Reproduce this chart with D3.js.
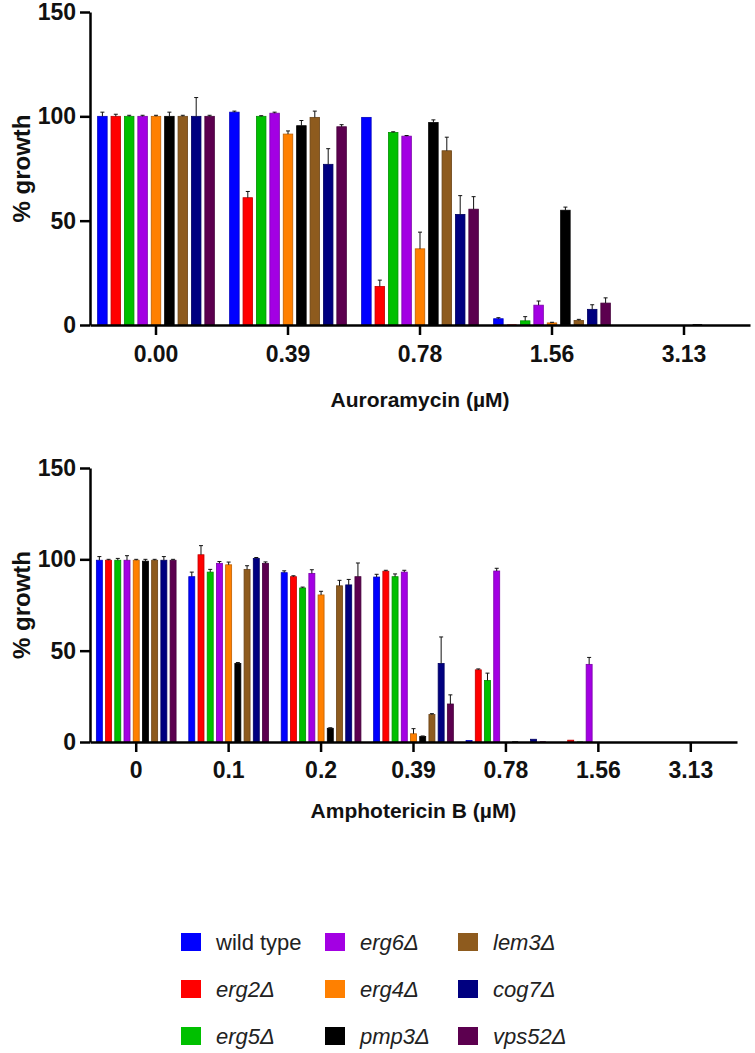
<!DOCTYPE html>
<html lang="en">
<head>
    <meta charset="UTF-8">
    <title>% growth</title>
    <script src="https://cdnjs.cloudflare.com/ajax/libs/d3/7.8.5/d3.min.js"></script>
    <style>
        body {
            margin: 0;
            background: white;
            font-family: "Liberation Sans", Arial, sans-serif;
        }
        svg {
            display: block;
        }
        .axis path, .axis line {
            stroke: #000;
            stroke-width: 2.5px;
        }
        .axis text {
            font-family: "Liberation Sans", Arial, sans-serif;
            font-size: 23px;
            font-weight: bold;
            fill: #111;
        }
        .title {
            font-size: 21px;
            font-weight: bold;
            fill: #111;
        }
        .ylab {
            font-size: 24px;
            font-weight: bold;
            fill: #111;
        }
        .legend text {
            font-size: 22px;
            fill: #222;
        }
    </style>
</head>
<body>
    <svg id="chart" width="755" height="1053"></svg>

    <script>
        // strains (legend order = bar order inside each group)
        const strains = ["wild type", "erg2Δ", "erg5Δ", "erg6Δ", "erg4Δ", "pmp3Δ", "lem3Δ", "cog7Δ", "vps52Δ"];
        const strainColors = ["#0000ff", "#ff0000", "#00c000", "#a300e3", "#ff8000", "#000000", "#8e5b1e", "#000080", "#5c004f"];

        // Auroramycin panel: one row per concentration, one value per strain
        const auroConc = ["0.00", "0.39", "0.78", "1.56", "3.13"];
        const auroMean = [
            [100, 100, 100, 100, 100, 100, 100, 100, 100],
            [102, 61, 100, 101.5, 91.5, 95.5, 99.5, 77, 95],
            [99.5, 18.5, 92.3, 90.5, 36.5, 97, 83.5, 53, 55.5],
            [3, 0.3, 2, 9.5, 1, 55, 2.2, 7.5, 10.5],
            [0, 0, 0, 0, 0, 0.4, 0, 0, 0]
        ];
        const auroErr = [
            [2, 1, 0.5, 0.5, 0.5, 2, 0.5, 9, 0.5],
            [0.5, 3, 0.3, 0.5, 1.5, 2.5, 3, 7.5, 1],
            [0, 3, 0.3, 0.3, 8, 1.3, 6.5, 9, 6],
            [0.5, 0, 2, 2, 0.3, 1.5, 0.5, 2.2, 2.5],
            [0, 0, 0, 0, 0, 0, 0, 0, 0]
        ];

        // Amphotericin B panel
        const amphoConc = ["0", "0.1", "0.2", "0.39", "0.78", "1.56", "3.13"];
        const amphoMean = [
            [99.5, 99.5, 99.5, 99.5, 99.5, 99, 99.5, 99.5, 99.5],
            [90.5, 102.5, 93, 97.8, 97, 43, 94.5, 100.5, 97.8],
            [92.7, 90.5, 84.3, 92.3, 80.5, 7.5, 85.5, 86, 90.5],
            [90.3, 93.5, 90.5, 93, 4.5, 3, 15, 43, 20.8],
            [0.8, 39.5, 33.7, 93.6, 0, 0.4, 0, 1.5, 0.4],
            [0, 1, 0.3, 42.5, 0, 0, 0, 0, 0],
            [0, 0, 0, 0, 0, 0, 0, 0, 0]
        ];
        const amphoErr = [
            [2, 0.5, 1, 2.5, 0.5, 1, 0.5, 2, 0.5],
            [2.5, 5, 1.5, 1, 1.5, 0.5, 2, 0.5, 0.8],
            [1, 0.5, 0.5, 2, 2, 0.3, 3, 3, 7.5],
            [1.5, 0.5, 1.5, 1, 2.8, 0.3, 0.5, 14.5, 5],
            [0, 0.5, 4, 1.5, 0, 0, 0, 0, 0],
            [0, 0, 0, 3.8, 0, 0, 0, 0, 0],
            [0, 0, 0, 0, 0, 0, 0, 0, 0]
        ];

        const yTicks = [0, 50, 100, 150];

        const svg = d3.select("#chart");

        function drawPanel(opt) {
            const g = svg.append("g");

            const x = d3.scaleBand()
                .domain(opt.conc)
                .range([opt.left, opt.right])
                .padding(0);

            const xs = d3.scaleBand()
                .domain(d3.range(strains.length))
                .range([0, x.bandwidth()])
                .paddingInner(opt.barPad)
                .paddingOuter(opt.outerPad);

            const y = d3.scaleLinear()
                .domain([0, 150])
                .range([opt.bottom, opt.top]);

            // bars
            opt.conc.forEach((c, i) => {
                const grp = g.append("g")
                    .attr("transform", `translate(${x(c)},0)`);

                grp.selectAll("rect")
                    .data(opt.mean[i])
                    .enter()
                    .append("rect")
                    .attr("x", (d, j) => xs(j))
                    .attr("y", d => y(d))
                    .attr("width", xs.bandwidth())
                    .attr("height", d => y(0) - y(d))
                    .attr("fill", (d, j) => strainColors[j])
                    .attr("stroke", (d, j) => d > 0.5 ? d3.color(strainColors[j]).darker(0.8) : "none")
                    .attr("stroke-width", 0.8);

                // upper error bars only
                const errs = opt.mean[i].map((m, j) => ({ m: m, e: opt.err[i][j], j: j }))
                    .filter(d => d.e > 0);

                grp.selectAll("line.err")
                    .data(errs)
                    .enter()
                    .append("line")
                    .attr("class", "err")
                    .attr("x1", d => xs(d.j) + xs.bandwidth() / 2)
                    .attr("x2", d => xs(d.j) + xs.bandwidth() / 2)
                    .attr("y1", d => y(d.m))
                    .attr("y2", d => y(d.m + d.e))
                    .attr("stroke", "#111")
                    .attr("stroke-width", 1);

                grp.selectAll("line.cap")
                    .data(errs)
                    .enter()
                    .append("line")
                    .attr("class", "cap")
                    .attr("x1", d => xs(d.j) + xs.bandwidth() / 2 - 2)
                    .attr("x2", d => xs(d.j) + xs.bandwidth() / 2 + 2)
                    .attr("y1", d => y(d.m + d.e))
                    .attr("y2", d => y(d.m + d.e))
                    .attr("stroke", "#111")
                    .attr("stroke-width", 1);
            });

            // axes
            g.append("g")
                .attr("class", "axis")
                .attr("transform", `translate(0,${opt.bottom})`)
                .call(d3.axisBottom(x).tickSize(10).tickSizeOuter(0).tickPadding(opt.xPad));

            g.append("g")
                .attr("class", "axis")
                .attr("transform", `translate(${opt.left},0)`)
                .call(d3.axisLeft(y).tickValues(yTicks).tickSize(10).tickSizeOuter(0).tickPadding(4));

            g.append("text")
                .attr("class", "title")
                .attr("x", (opt.left + opt.right) / 2)
                .attr("y", opt.titleY)
                .attr("text-anchor", "middle")
                .text(opt.title);

            g.append("text")
                .attr("class", "ylab")
                .attr("transform", `translate(30,${(opt.top + opt.bottom) / 2}) rotate(-90)`)
                .attr("text-anchor", "middle")
                .text("% growth");
        }

        drawPanel({
            conc: auroConc, mean: auroMean, err: auroErr,
            left: 90, right: 750, top: 12, bottom: 325,
            barPad: 0.29, outerPad: 0.57, xPad: 11,
            title: "Auroramycin (µM)", titleY: 407
        });

        drawPanel({
            conc: amphoConc, mean: amphoMean, err: amphoErr,
            left: 90, right: 737, top: 468, bottom: 742,
            barPad: 0.35, outerPad: 0.69, xPad: 10,
            title: "Amphotericin B (µM)", titleY: 818
        });

        // legend, 3 columns x 3 rows
        const legend = svg.append("g").attr("class", "legend");
        const colX = [181, 325, 458];
        const rowY = [942, 989, 1036];

        const items = legend.selectAll("g")
            .data(strains)
            .enter()
            .append("g")
            .attr("transform", (d, i) => `translate(${colX[Math.floor(i / 3)]},${rowY[i % 3]})`);

        items.append("rect")
            .attr("x", 0)
            .attr("y", -9)
            .attr("width", 20)
            .attr("height", 18)
            .attr("fill", (d, i) => strainColors[i]);

        items.append("text")
            .attr("x", 35)
            .attr("y", 0)
            .attr("dy", "0.35em")
            .style("font-style", (d, i) => i === 0 ? "normal" : "italic")
            .text(d => d);
    </script>
</body>
</html>
